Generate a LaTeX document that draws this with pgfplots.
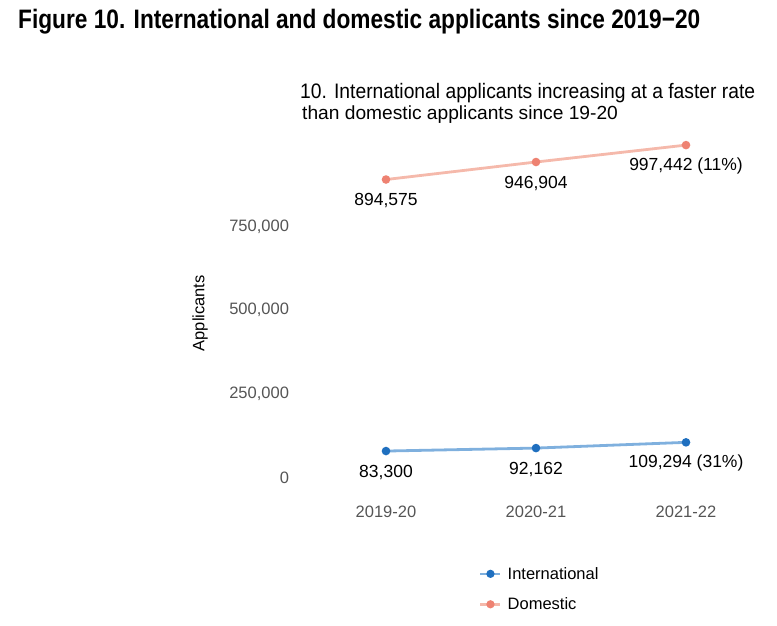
\documentclass[border=0pt]{standalone}
\usepackage{pgfplots}
\pgfplotsset{compat=1.18}
\usepackage{fontspec}
\setmainfont{Liberation Sans}
\definecolor{intline}{HTML}{7FB0DE}
\definecolor{intmark}{HTML}{1F6FBF}
\definecolor{domline}{HTML}{F5B9AB}
\definecolor{dommark}{HTML}{EE8272}
\definecolor{ticktext}{HTML}{555555}
\begin{document}
\begin{tikzpicture}
\path[use as bounding box] (0,0) rectangle (777pt,-625pt);
\node[anchor=base west, inner sep=0, font=\bfseries\fontsize{24}{28}\selectfont] at (18pt,-28pt)
  {\resizebox{682pt}{!}{\scalebox{0.85}[1]{Figure 10. International and domestic applicants since 2019−20}}};
\node[anchor=base west, inner sep=0, font=\fontsize{19}{22}\selectfont] at (300pt,-98pt)
  {\resizebox{455pt}{!}{\scalebox{0.92}[1]{10. International applicants increasing at a faster rate}}};
\node[anchor=base west, inner sep=0, font=\fontsize{19}{22}\selectfont] at (302pt,-119pt)
  {\scalebox{1.01}[1]{than domestic applicants since 19-20}};
\begin{axis}[
  at={(318.5pt,-499pt)}, anchor=south west,
  scale only axis, width=420pt, height=371.5pt,
  xmin=-0.45, xmax=2.35, ymin=-60000, ymax=1050000,
  axis line style={draw=none},
  major tick length=0pt,
  xtick={0,1,2}, xticklabels={2019-20,2020-21,2021-22},
  ytick={0,250000,500000,750000},
  scaled y ticks=false,
  /pgf/number format/.cd, fixed, precision=0, 1000 sep={,}, assume math mode=true, /pgfplots/.cd,
  ticklabel style={font=\fontsize{16.5}{19}\selectfont, text=ticktext},
  yticklabel style={anchor=east, xshift=-26pt, yshift=1.5pt},
  xticklabel style={yshift=-3pt},
  ylabel={Applicants},
  ylabel style={at={(axis description cs:-0.282,0.5)}, anchor=center, font=\fontsize{16.5}{19}\selectfont},
  point meta=explicit symbolic,
  nodes near coords,
  every node near coord/.style={anchor=center, yshift=-21pt, font=\fontsize{17.5}{21}\selectfont, text=black},
  legend style={at={(0.375,-0.172)}, anchor=north west, draw=none, fill=none,
    font=\fontsize{16.5}{19}\selectfont, row sep=13pt, legend cell align=left,
    nodes={inner xsep=6pt}},
  legend image code/.code={\draw[#1, line width=2.5pt, mark repeat=2, mark phase=2] plot coordinates {(0pt,0pt)(10pt,0pt)(20pt,0pt)};},
]
\addplot[intline, line width=2.8pt, mark=*, mark size=2.8pt,
  mark options={draw=intmark, fill=intmark}]
  coordinates {(0,83300) [83,300] (1,92162) [92,162] (2,109294) [109,294 (31\%)]};
\addlegendentry{International}
\addplot[domline, line width=2.8pt, mark=*, mark size=2.8pt,
  mark options={draw=dommark, fill=dommark}]
  coordinates {(0,894575) [894,575] (1,946904) [946,904] (2,997442) [997,442 (11\%)]};
\addlegendentry{Domestic}
\end{axis}
\end{tikzpicture}
\end{document}
